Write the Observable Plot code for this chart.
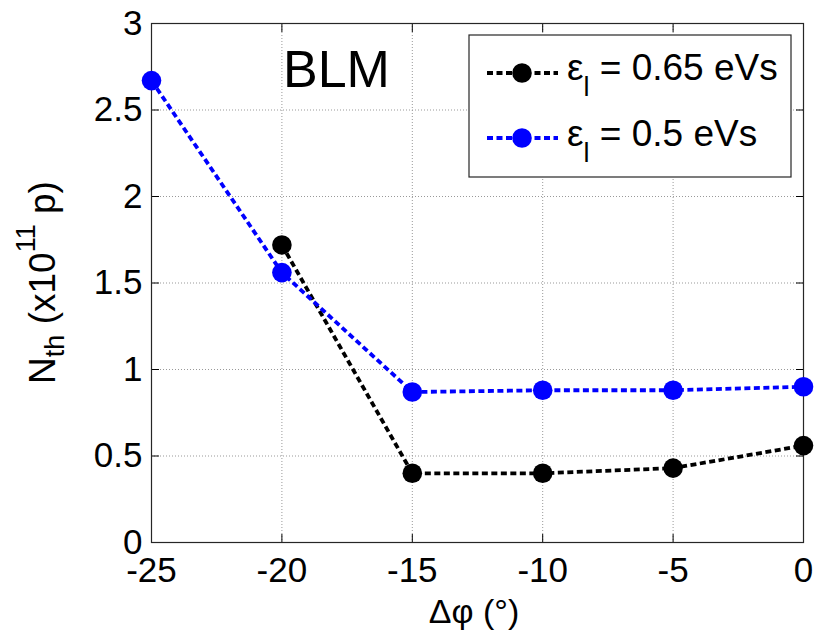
<!DOCTYPE html>
<html><head><meta charset="utf-8">
<script src="https://cdn.jsdelivr.net/npm/d3@7"></script>
<script src="https://cdn.jsdelivr.net/npm/@observablehq/plot@0.6"></script>
<style>body{margin:0;background:#fff} svg{display:block}</style>
</head><body><div id="chart"></div>
<script>
// Data
const phaseBlack = [-20, -15, -10, -5, 0];
const nthBlack   = [1.72, 0.40, 0.40, 0.43, 0.56];   // eps_l = 0.65 eVs
const phaseBlue  = [-25, -20, -15, -10, -5, 0];
const nthBlue    = [2.67, 1.56, 0.87, 0.88, 0.88, 0.90]; // eps_l = 0.5 eVs
const seriesLabels = ["0.65 eVs", "0.5 eVs"];
const seriesColors = ["#000000", "#0000ff"];
const xTicks = [-25, -20, -15, -10, -5, 0];
const yTicks = [0, 0.5, 1, 1.5, 2, 2.5, 3];
const titleText = "BLM";

const blackData = phaseBlack.map((p, i) => ({phase: p, nth: nthBlack[i]}));
const blueData = phaseBlue.map((p, i) => ({phase: p, nth: nthBlue[i]}));

const FONT = "'Liberation Sans', Arial, Helvetica, sans-serif";
const dash = "6,3.5";
const LW = 3.8;

const chart = Plot.plot({
  width: 816, height: 639,
  marginLeft: 151, marginRight: 13, marginTop: 23, marginBottom: 97,
  style: {fontFamily: FONT, fontSize: "35px", color: "#000", background: "#fff"},
  x: {domain: [-25, 0]},
  y: {domain: [0, 3]},
  marks: [
    Plot.gridX(xTicks.slice(1, -1), {stroke: "#999", strokeOpacity: 1, strokeDasharray: "1,2"}),
    Plot.gridY(yTicks.slice(1, -1), {stroke: "#999", strokeOpacity: 1, strokeDasharray: "1,2"}),
    Plot.axisX(xTicks, {anchor: "bottom", tickSize: -8, tickPadding: 23, tickFormat: d => String(d), label: null}),
    Plot.axisX(xTicks, {anchor: "top", tickSize: -8, tickFormat: () => "", label: null}),
    Plot.axisY(yTicks, {anchor: "left", tickSize: -8, tickPadding: 17, tickFormat: d => String(d), label: null}),
    Plot.axisY(yTicks, {anchor: "right", tickSize: -8, tickFormat: () => "", label: null}),
    Plot.frame({stroke: "#262626", strokeWidth: 1.2}),
    Plot.line(blackData, {x: "phase", y: "nth", stroke: seriesColors[0], strokeWidth: LW, strokeDasharray: dash, strokeLinecap: "butt", strokeLinejoin: "miter"}),
    Plot.dot(blackData, {x: "phase", y: "nth", r: 9.8, fill: seriesColors[0], stroke: "none"}),
    Plot.line(blueData, {x: "phase", y: "nth", stroke: seriesColors[1], strokeWidth: LW, strokeDasharray: dash, strokeLinecap: "butt", strokeLinejoin: "miter"}),
    Plot.dot(blueData, {x: "phase", y: "nth", r: 9.8, fill: seriesColors[1], stroke: "none"})
  ]
});
document.getElementById("chart").appendChild(chart);

const svg = d3.select(chart);

// In-plot title
svg.append("text").attr("x", 283).attr("y", 87).attr("text-anchor", "start")
  .attr("font-family", FONT).attr("font-size", 52).attr("fill", "#000").text(titleText);

// Y label with subscript / superscript
const yl = svg.append("text")
  .attr("transform", "translate(55,282.5) rotate(-90)")
  .attr("text-anchor", "middle").attr("font-family", FONT).attr("font-size", 37).attr("fill", "#000");
yl.append("tspan").text("N");
yl.append("tspan").attr("font-size", 27).attr("dy", 9).text("th");
yl.append("tspan").attr("dy", -9).text(" (x10");
yl.append("tspan").attr("font-size", 27).attr("dy", -20).text("11");
yl.append("tspan").attr("dy", 20).text(" p)");

// X label
svg.append("text").attr("x", 474).attr("y", 623).attr("text-anchor", "middle")
  .attr("font-family", FONT).attr("font-size", 34).attr("fill", "#000").text("Δφ (°)");

// Legend
const lg = svg.append("g");
lg.append("rect").attr("x", 469).attr("y", 35).attr("width", 322).attr("height", 142)
  .attr("fill", "#fff").attr("stroke", "#262626").attr("stroke-width", 1.2);
const rowsY = [73, 138];
const baseY = [80, 146];
seriesLabels.forEach((lab, i) => {
  lg.append("line").attr("x1", 487).attr("x2", 558).attr("y1", rowsY[i]).attr("y2", rowsY[i])
    .attr("stroke", seriesColors[i]).attr("stroke-width", LW).attr("stroke-dasharray", dash)
    .attr("stroke-linecap", "butt");
  lg.append("circle").attr("cx", 522).attr("cy", rowsY[i]).attr("r", 9.8).attr("fill", seriesColors[i]);
  const t = lg.append("text").attr("x", 567).attr("y", baseY[i]).attr("text-anchor", "start")
    .attr("font-family", FONT).attr("font-size", 37).attr("fill", "#000");
  t.append("tspan").text("ε");
  t.append("tspan").attr("font-size", 27).attr("dy", 16).text("l");
  t.append("tspan").attr("dy", -16).text(" = " + lab);
});
</script>
</body></html>
